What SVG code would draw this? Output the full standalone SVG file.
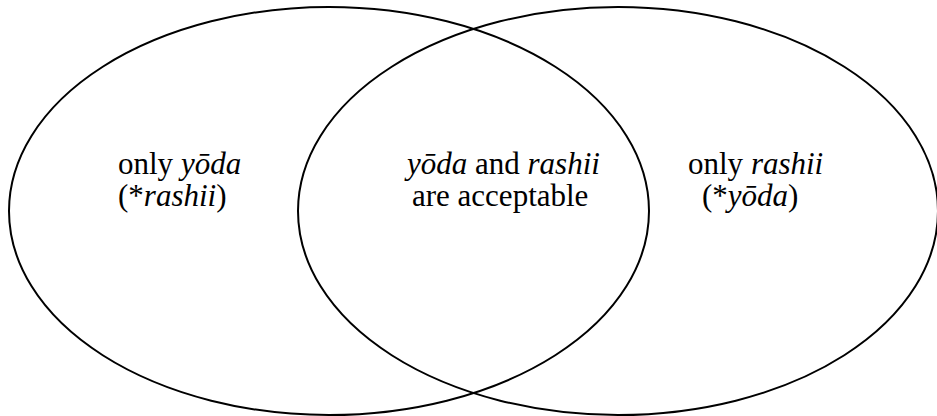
<svg xmlns="http://www.w3.org/2000/svg" width="937" height="416" viewBox="0 0 937 416">
<style>
.set{fill:none;stroke:#000;stroke-width:2}
text,tspan{font-family:"Liberation Serif","DejaVu Serif","Times New Roman",serif;font-size:31px;fill:#000}
.i{font-style:italic}
</style>
<rect width="937" height="416" fill="#fff"/>
<g id="left-set"><ellipse class="set" cx="329" cy="211" rx="320" ry="204"/></g>
<g id="right-set"><ellipse class="set" cx="618" cy="211" rx="320" ry="204"/></g>
<g id="label-left">
<text x="118" y="174">only <tspan class="i">yōda</tspan></text>
<text x="118" y="206">(*<tspan class="i">rashii</tspan>)</text>
</g>
<g id="label-center">
<text x="407" y="174"><tspan class="i">yōda</tspan> and <tspan class="i">rashii</tspan></text>
<text x="412" y="206">are acceptable</text>
</g>
<g id="label-right">
<text x="688" y="174">only <tspan class="i">rashii</tspan></text>
<text x="702" y="206">(*<tspan class="i">yōda</tspan>)</text>
</g>
</svg>
